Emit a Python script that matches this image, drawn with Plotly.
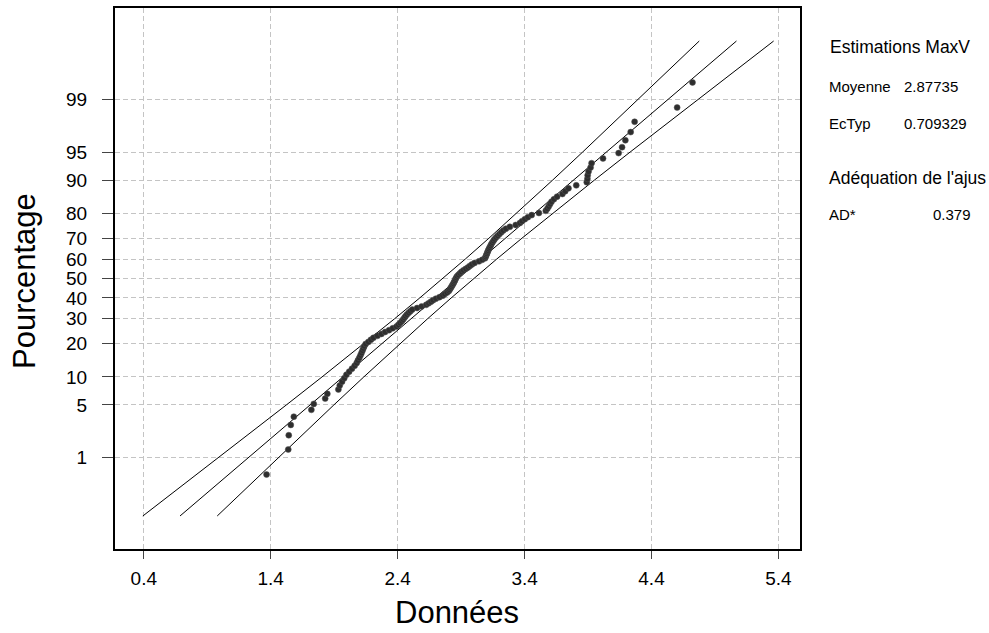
import plotly.graph_objects as go
from statistics import NormalDist

donnees = [
    1.367, 1.538, 1.542, 1.558, 1.582, 1.720, 1.739, 1.829, 1.846, 1.933,
    1.944, 1.962, 1.979, 1.996, 2.018, 2.040, 2.061, 2.077, 2.087, 2.098,
    2.107, 2.115, 2.123, 2.130, 2.137, 2.148, 2.169, 2.189, 2.209, 2.241,
    2.272, 2.301, 2.332, 2.361, 2.391, 2.406, 2.419, 2.433, 2.443, 2.453,
    2.462, 2.473, 2.487, 2.500, 2.515, 2.553, 2.589, 2.625, 2.644, 2.662,
    2.679, 2.701, 2.729, 2.755, 2.771, 2.789, 2.803, 2.810, 2.817, 2.824,
    2.831, 2.838, 2.844, 2.850, 2.855, 2.861, 2.868, 2.879, 2.891, 2.903,
    2.919, 2.937, 2.954, 2.969, 2.985, 3.006, 3.041, 3.066, 3.088, 3.093,
    3.098, 3.103, 3.108, 3.113, 3.119, 3.125, 3.132, 3.138, 3.146, 3.155,
    3.163, 3.175, 3.188, 3.202, 3.216, 3.232, 3.253, 3.284, 3.330, 3.363,
    3.380, 3.402, 3.426, 3.456, 3.513, 3.567, 3.579, 3.590, 3.601, 3.612,
    3.631, 3.656, 3.698, 3.720, 3.746, 3.807, 3.890, 3.895, 3.897, 3.904,
    3.920, 3.928, 4.018, 4.141, 4.168, 4.194, 4.236, 4.267, 4.602, 4.723,
]
moyenne = 2.87735
ectyp = 0.709329
ad_stat = 0.379

pct_ticks = [1, 5, 10, 20, 30, 40, 50, 60, 70, 80, 90, 95, 99]
x_ticks = [0.4, 1.4, 2.4, 3.4, 4.4, 5.4]
line_levels = [0.1, 0.2, 0.5, 1, 2, 5, 10, 20, 30, 40, 50, 60, 70, 80, 90, 95, 98, 99, 99.5, 99.8, 99.9]

nd = NormalDist()
n = len(donnees)
# median-rank (Benard) plotting positions
pos = [(i - 0.3) / (n + 0.4) for i in range(1, n + 1)]
z_pts = [nd.inv_cdf(p) for p in pos]

# fitted line and 95% confidence bounds
z_line = [nd.inv_cdf(p / 100) for p in line_levels]
x_fit = [moyenne + ectyp * z for z in z_line]
half = [1.96 * ectyp * ((1 + z * z / 2) / n) ** 0.5 for z in z_line]
x_lo = [xf - h for xf, h in zip(x_fit, half)]
x_hi = [xf + h for xf, h in zip(x_fit, half)]

FONT = "Arial, Liberation Sans, sans-serif"
fig = go.Figure()
for xs in (x_lo, x_fit, x_hi):
    fig.add_trace(go.Scatter(x=xs, y=z_line, mode="lines",
                             line=dict(color="black", width=1), hoverinfo="skip",
                             showlegend=False))
fig.add_trace(go.Scatter(x=donnees, y=z_pts, mode="markers",
                         marker=dict(size=6, color="#2e2e2e",
                                     line=dict(width=0.5, color="#555555")),
                         showlegend=False))

W, H = 989, 633
L, R, T, B = 115, 189, 6, 84
pw, ph = W - L - R, H - T - B

def px(xp):
    return (xp - L) / pw

def py(yp):
    return (H - B - yp) / ph

fig.update_layout(
    width=W, height=H, margin=dict(l=L, r=R, t=T, b=B),
    paper_bgcolor="white", plot_bgcolor="white",
    font=dict(family=FONT, color="black"),
    xaxis=dict(range=[0.173, 5.570], tickvals=x_ticks,
               ticktext=[f"{v:.1f}" for v in x_ticks],
               showgrid=True, gridcolor="#c4c4c4", griddash="5px,3px", gridwidth=1,
               zeroline=False, showline=True, mirror=True, linecolor="black", linewidth=2,
               ticks="outside", ticklen=8, tickcolor="#444444", tickwidth=1,
               tickfont=dict(size=19, family=FONT), ticklabelstandoff=3),
    yaxis=dict(range=[-3.52, 3.52], tickvals=[nd.inv_cdf(p / 100) for p in pct_ticks],
               ticktext=[str(p) for p in pct_ticks],
               showgrid=True, gridcolor="#c4c4c4", griddash="5px,3px", gridwidth=1,
               zeroline=False, showline=True, mirror=True, linecolor="black", linewidth=2,
               ticks="outside", ticklen=11, tickcolor="#444444", tickwidth=1,
               tickfont=dict(size=19, family=FONT), ticklabelstandoff=11),
)

ann = [
    dict(text="Pourcentage", x=px(25), y=py(280), textangle=-90, font=dict(size=31)),
    dict(text="Données", x=px(457), y=py(613), font=dict(size=31)),
    dict(text="Estimations MaxV", x=px(828), y=py(45), xanchor="left", font=dict(size=17.5)),
    dict(text="Moyenne", x=px(827), y=py(85), xanchor="left", font=dict(size=15)),
    dict(text=f"{moyenne}", x=px(902), y=py(85), xanchor="left", font=dict(size=15)),
    dict(text="EcTyp", x=px(827), y=py(122), xanchor="left", font=dict(size=15)),
    dict(text=f"{ectyp}", x=px(902), y=py(122), xanchor="left", font=dict(size=15)),
    dict(text="Adéquation de l'ajus", x=px(827), y=py(177), xanchor="left", font=dict(size=17.5)),
    dict(text="AD*", x=px(827), y=py(213), xanchor="left", font=dict(size=15)),
    dict(text=f"{ad_stat}", x=px(931), y=py(213), xanchor="left", font=dict(size=15)),
]
for a in ann:
    a.setdefault("xanchor", "center")
    a.update(xref="paper", yref="paper", yanchor="middle", showarrow=False)
    a["font"].update(family=FONT, color="black")
    fig.add_annotation(**a)

fig.write_html("out.html", config={"displayModeBar": False},
               post_script="document.body.style.margin='0';document.body.style.overflow='hidden';")
